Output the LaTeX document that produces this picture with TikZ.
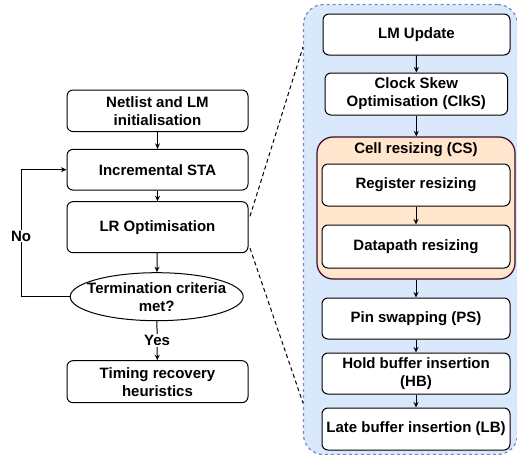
\documentclass[tikz,border=0pt]{standalone}
\usepackage{fontspec}
\setmainfont{Liberation Sans}
\usetikzlibrary{arrows.meta,shapes.geometric,calc}
\definecolor{panelfill}{HTML}{DAE8FC}
\definecolor{paneldraw}{HTML}{6C8EBF}
\definecolor{orfill}{HTML}{FFE6CC}
\definecolor{ordraw}{HTML}{3C0A28}
\begin{document}
\begin{tikzpicture}[x=1pt,y=-1pt,
  txt/.style={font=\bfseries\fontsize{15}{18}\selectfont,align=center,text=black},
  box/.style={txt,draw=black,line width=1pt,rounded corners=6pt,fill=white,inner sep=0pt},
  ell/.style={txt,draw=black,line width=1pt,ellipse,fill=white,inner sep=0pt},
  arr/.style={draw=black,line width=1pt,-{Stealth[length=5.5pt,width=5pt]}},
  dsh/.style={draw=black,line width=1pt,dash pattern=on 4pt off 3pt},
  lbl/.style={txt,fill=white,inner sep=1pt}]
\useasboundingbox (0,0) rectangle (517,455);
% right panel
\node[draw=paneldraw,fill=panelfill,line width=1.2pt,dash pattern=on 3pt off 3pt,rounded corners=20pt,minimum width=214pt,minimum height=450pt,inner sep=0pt] (panel) at (410.5,229.5) {};
\node[draw=ordraw,fill=orfill,line width=1.2pt,rounded corners=16pt,minimum width=198pt,minimum height=142pt,inner sep=0pt] (cs) at (416,208) {};
\node[txt] (cst) at (416,150) {Cell resizing (CS)};
% left column
\node[box,minimum width=181pt,minimum height=41.5pt] (net) at (157.5,110.8) {Netlist and LM\\initialisation};
\node[box,minimum width=181pt,minimum height=40.7pt] (incr) at (157.5,169.7) {Incremental STA};
\node[box,minimum width=181pt,minimum height=51pt] (lr) at (157.5,227.2) {LR Optimisation};
\node[ell,minimum width=173pt,minimum height=48pt] (term) at (156.7,296.7) {};
\node[txt] at (156.7,297.5) {Termination criteria\\met?};
\node[box,minimum width=181pt,minimum height=42pt] (tim) at (157.5,381.7) {Timing recovery\\heuristics};
% right column
\node[box,minimum width=187pt,minimum height=41pt] (lm) at (416.5,34.5) {LM Update};
\node[box,minimum width=182.5pt,minimum height=42pt] (clk) at (416.3,94) {Clock Skew\\Optimisation (ClkS)};
\node[box,minimum width=188pt,minimum height=42pt] (reg) at (416,185) {Register resizing};
\node[box,minimum width=188pt,minimum height=43pt] (dp) at (416,246.5) {Datapath resizing};
\node[box,minimum width=188pt,minimum height=41pt] (pin) at (416,318.5) {Pin swapping (PS)};
\node[box,minimum width=188pt,minimum height=41pt] (hold) at (416,373.5) {Hold buffer insertion\\(HB)};
\node[box,minimum width=188pt,minimum height=42pt] (late) at (416,429) {Late buffer insertion (LB)};
% left arrows
\draw[arr] (net) -- (incr);
\draw[arr] (incr) -- (lr);
\draw[arr] (lr) -- (term);
\draw[arr] (term) -- node[lbl] {Yes} (tim);
\coordinate (lp) at (21,296.7);
\draw[arr] (term.west) -- (lp) |- (incr.west);
\node[lbl] at (21,236) {No};
% right arrows
\draw[arr] (lm) -- (clk);
\draw[arr] (clk.south) -- (clk.south|-cs.north);
\draw[arr] (reg) -- (dp);
\draw[arr] (pin.north|-cs.south) -- (pin.north);
\draw[arr] (pin) -- (hold);
\draw[arr] (hold) -- (late);
% zoom lines
\coordinate (za) at ($(lr.north east)+(1.5,15)$);
\coordinate (zb) at ($(lr.south east)+(1.5,-5)$);
\coordinate (pa) at (303,47);
\coordinate (pb) at (303,403);
\draw[dsh] (za) -- (pa);
\draw[dsh] (zb) -- (pb);
\end{tikzpicture}
\end{document}
